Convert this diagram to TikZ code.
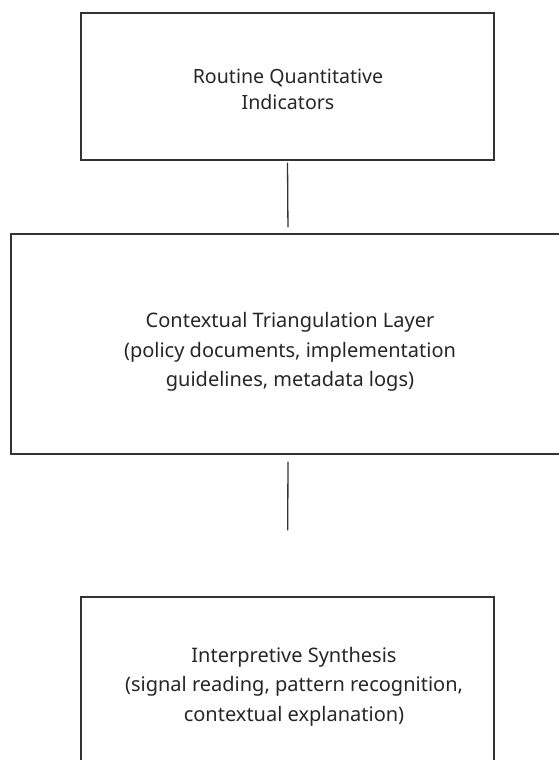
\documentclass[tikz,border=0pt]{standalone}
\usepackage{fontspec}
\setmainfont{Noto Sans}
\begin{document}
\begin{tikzpicture}[x=1pt,y=-1pt,
  box/.style={draw=black!80, line width=1.3pt, rectangle, inner sep=0pt},
  label/.style={align=center, text=black!85, inner sep=0pt},
  link/.style={draw=black!80, line width=1.3pt},
  txtA/.style={font=\fontsize{19.6}{26}\selectfont},
  txtB/.style={font=\fontsize{20}{29.5}\selectfont}]
\useasboundingbox (0,0) rectangle (559,760);
\begin{scope}
\clip (0,0) rectangle (559,760);
\node[box, minimum width=413pt, minimum height=147pt] (b1) at (287.5,86.5) {};
\node[box, minimum width=554pt, minimum height=220pt] (b2) at (288,344) {};
\node[box, minimum width=413pt, minimum height=178pt] (b3) at (287.5,686) {};
\node[label, txtA] (t1) at (288,89.5) {Routine Quantitative\\Indicators};
\node[label, txtB] (t2) at (290,352) {Contextual Triangulation Layer\\(policy documents, implementation\\guidelines, metadata logs)};
\node[label, txtB] (t3) at (294,686.5) {Interpretive Synthesis\\(signal reading, pattern recognition,\\contextual explanation)};
\draw[link, shorten <=2pt, shorten >=6pt] (b1.south) -- (b2.north);
\draw[link, shorten <=7pt, shorten >=66pt] (b2.south) -- (b3.north);
\end{scope}
\end{tikzpicture}
\end{document}
